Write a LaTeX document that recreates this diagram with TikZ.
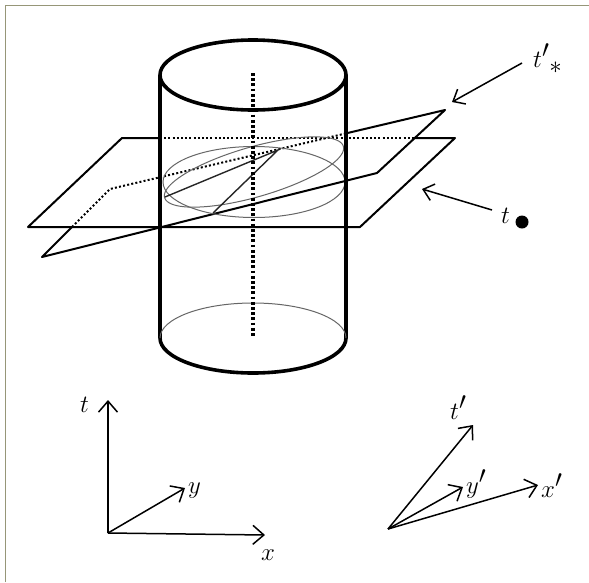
\documentclass[tikz,border=0pt]{standalone}
\usetikzlibrary{arrows.meta}
\begin{document}
\begin{tikzpicture}[x=1pt,y=-1pt,
  edge/.style={line width=2pt, line cap=round, line join=round},
  hid/.style={line width=2pt, dash pattern=on 2pt off 2.2pt},
  cyl/.style={line width=3.6pt},
  thinline/.style={line width=1pt, draw=black!60},
  darkline/.style={line width=1.4pt, draw=black!85},
  ax/.style={line width=1.5pt, -{Straight Barb[length=11pt,width=19pt,line width=1.5pt]}},
  ptr/.style={line width=1.5pt, -{Straight Barb[length=10pt,width=17pt,line width=1.5pt]}},
  lbl/.style={font=\fontsize{34}{34}\selectfont, inner sep=0pt, anchor=base west}]
\useasboundingbox (0,0) rectangle (589,582);
\fill[white] (0,0) rectangle (589,582);
% frame (top and left only)
\coordinate (f1) at (5,582);
\coordinate (f2) at (5,5);
\coordinate (f3) at (589,5);
\draw[line width=1pt, color={rgb,255:red,150;green,150;blue,120}] (f1) -- (f2) -- (f3);

% horizontal plane
\coordinate (hbl) at (122,138);
\coordinate (hbr) at (455,138);
\coordinate (hfr) at (360,227);
\coordinate (hfl) at (28,227);
\coordinate (hb1) at (160,138);
\coordinate (hb2) at (415,138);
\draw[edge] (hb2) -- (hbr) -- (hfr) -- (hfl) -- (hbl) -- (hb1);
\draw[hid] (hb1) -- (hb2);

% tilted plane
\coordinate (tfl) at (42,257);
\coordinate (tbl) at (110,189);
\coordinate (tbr) at (445,110);
\coordinate (tfr) at (377,173);
\coordinate (tl1) at (72,227);
\coordinate (tb1) at (345,133.6);
\draw[edge] (tl1) -- (tfl) -- (tfr) -- (tbr) -- (tb1);
\draw[hid] (tl1) -- (tbl) -- (tb1);

% cross sections
\draw[thinline] (254,182) ellipse [x radius=91, y radius=35.5];
\draw[thinline] plot[domain=0:360,samples=120,smooth]
  ({254+93*cos(\x)*0.961+25*sin(\x)*0.276},{172-93*cos(\x)*0.276+25*sin(\x)*0.961});
\coordinate (d1) at (165,197);
\coordinate (d2) at (278,150);
\coordinate (d3) at (213,213);
\draw[darkline] (d1) -- (d2) -- (d3);

% cylinder
\draw[cyl] (253,75) ellipse [x radius=93, y radius=35];
\coordinate (cl1) at (160,75);
\coordinate (cl2) at (160,338);
\coordinate (cr1) at (346,75);
\coordinate (cr2) at (346,338);
\draw[cyl] (cl1) -- (cl2);
\draw[cyl] (cr1) -- (cr2);
\draw[cyl] (cl2) arc[start angle=180, end angle=360, x radius=93, y radius=-35];
\draw[thinline] (cl2) arc[start angle=180, end angle=0, x radius=93, y radius=-35];
% axis
\coordinate (ax1) at (253,73);
\coordinate (ax2) at (253,336);
\draw[line width=3.2pt, dash pattern=on 2.8pt off 2.4pt] (ax1) -- (ax2);

% labels with pointers
\node[lbl] (tstar) at (533,67) {$t'$\raisebox{-6pt}{$\ast$}};
\coordinate (p1s) at (522,63);
\coordinate (p1e) at (452,102);
\draw[ptr] (p1s) -- (p1e);
\node[lbl] (tdot) at (501,223) {$t$};
\node[circle, fill=black, inner sep=0pt, minimum size=13pt] (dot) at (522,222) {};
\coordinate (p2s) at (492,210);
\coordinate (p2e) at (422,189);
\draw[ptr] (p2s) -- (p2e);

% left axes
\coordinate (o1) at (108,533);
\coordinate (t1) at (108,400);
\coordinate (x1) at (265,535);
\coordinate (y1) at (185,488);
\draw[ax] (o1) -- (t1);
\draw[ax] (o1) -- (x1);
\draw[ax] (o1) -- (y1);
\node[lbl] (lt) at (80,412) {$t$};
\node[lbl] (lx) at (261,560) {$x$};
\node[lbl] (ly) at (188,493) {$y$};

% right axes
\coordinate (o2) at (388,529);
\coordinate (t2) at (473,425);
\coordinate (y2) at (463,487);
\coordinate (x2) at (538,485);
\draw[ax] (o2) -- (t2);
\draw[ax] (o2) -- (y2);
\draw[ax] (o2) -- (x2);
\node[lbl] (lt2) at (450,419) {$t'$};
\node[lbl] (ly2) at (466,493) {$y'$};
\node[lbl] (lx2) at (541,497) {$x'$};
\end{tikzpicture}
\end{document}
